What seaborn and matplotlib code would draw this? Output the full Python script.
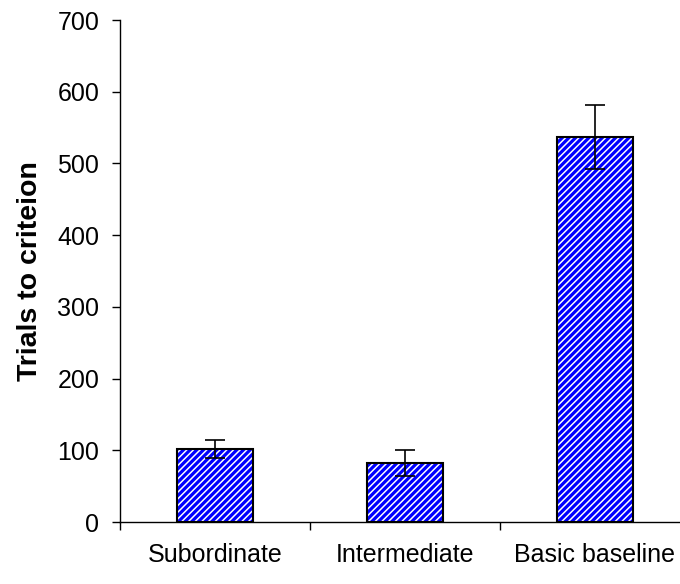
import numpy as np
import pandas as pd
import matplotlib
matplotlib.use("Agg")
import matplotlib.pyplot as plt
from matplotlib.patches import Rectangle
import seaborn as sns

categories = ["Subordinate", "Intermediate", "Basic baseline"]
trials = [102, 82, 537]
errors = [13, 18, 45]

sns.set_style("white")
plt.rcParams['font.family'] = ['Liberation Sans', 'DejaVu Sans']
plt.rcParams['hatch.linewidth'] = 2.3

df = pd.DataFrame({"Condition": categories, "Trials": trials})

fig = plt.figure(figsize=(6.8, 5.84), dpi=100)
ax = fig.add_axes([120 / 680, 62 / 584, 570 / 680, 502 / 584])

sns.barplot(data=df, x="Condition", y="Trials", color="white", width=0.4,
            errorbar=None, ax=ax)
# blue stripes come from the hatch, a black outline goes on top
for p in list(ax.patches):
    p.set_facecolor("white")
    p.set_edgecolor("#0000ff")
    p.set_linewidth(0)
    p.set_hatch("/////")
    ax.add_patch(Rectangle(p.get_xy(), p.get_width(), p.get_height(),
                           fill=False, edgecolor="black", linewidth=1.5,
                           zorder=p.get_zorder() + 0.1))

ax.errorbar(np.arange(len(categories)), trials, yerr=errors, fmt="none",
            ecolor="black", elinewidth=1.2, capsize=7, capthick=1.2, zorder=5)

ax.set_xlim(-0.5, 2.5)
ax.set_ylim(0, 700)
ax.set_yticks(np.arange(0, 701, 100))
ax.set_xlabel("")
ax.set_ylabel("Trials to criteion", fontsize=20.5, fontweight="bold",
              labelpad=10, color="black")

ax.tick_params(axis="y", which="major", direction="out", length=6, width=1,
               left=True, labelsize=18, color="black", labelcolor="black", pad=9)
ax.tick_params(axis="x", which="major", length=0, labelsize=18, pad=15,
               labelcolor="black")
ax.set_xticks([-0.5, 0.5, 1.5, 2.5], minor=True)
ax.tick_params(axis="x", which="minor", direction="out", length=6, width=1,
               bottom=True, color="black")

for s in ["top", "right"]:
    ax.spines[s].set_visible(False)
for s in ["left", "bottom"]:
    ax.spines[s].set_color("black")
    ax.spines[s].set_linewidth(1)

fig.savefig("out.png", dpi=100)
